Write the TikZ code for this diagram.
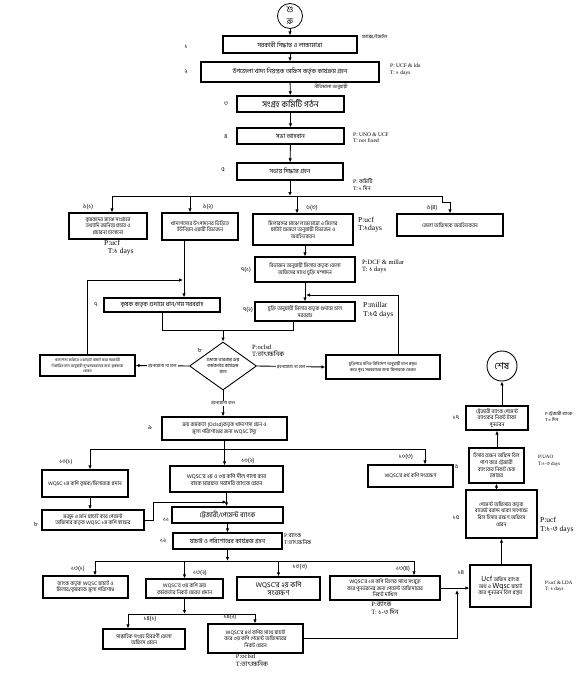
\documentclass[tikz,border=0pt]{standalone}
\usepackage{fontspec}
\setmainfont{Liberation Serif}
\newfontfamily\bnfont[Script=Bengali]{Hind Siliguri}
\newcommand\bn[1]{{\bnfont #1}}
\usetikzlibrary{shapes.geometric, arrows.meta, positioning, calc}

\begin{document}
\begin{tikzpicture}[x=1pt, y=-1pt,
    bx/.style={draw, line width=1.3pt, inner sep=1pt, align=center, font=\bnfont\fontsize{5.2}{6.6}\selectfont},
    bxm/.style={bx, font=\bnfont\fontsize{6.2}{7}\selectfont},
    bxl/.style={bx, font=\bnfont\fontsize{8.5}{9}\selectfont},
    arr/.style={-{Latex[length=4pt,width=3.5pt]}, line width=0.9pt},
    ln/.style={line width=0.9pt},
    num/.style={font=\bnfont\fontsize{6}{7}\selectfont, inner sep=0pt},
    ptlab/.style={font=\fontsize{5.5}{6.5}\selectfont, align=left, inner sep=0pt, anchor=west},
    ptbig/.style={font=\fontsize{7.5}{8.5}\selectfont, align=left, inner sep=0pt, anchor=west},
    cond/.style={midway, fill=white, inner sep=1pt, font=\bnfont\fontsize{4.5}{5}\selectfont}]
    \useasboundingbox (0,0) rectangle (586,673);

    % Start and first steps
    \node[draw, circle, line width=0.8pt, minimum size=25pt, inner sep=0pt, font=\bnfont\fontsize{8.5}{12}\selectfont, align=center] (start) at (290,16) {শু\\রু};
    \node[bxm, minimum width=134pt, minimum height=17pt] (b1) at (290,44.5) {সরকারী সিদ্ধান্ত ও লক্ষ্যমাত্রা};
    \node[bxm, minimum width=178pt, minimum height=20pt] (b2) at (290,72) {উপজেলা খাদ্য নিয়ন্ত্রক অফিস কর্তৃক কার্যক্রম গ্রহন};
    \node[bxl, minimum width=107pt, minimum height=16pt] (b3) at (290.5,104) {সংগ্রহ কমিটি গঠন};
    \node[bxm, minimum width=107pt, minimum height=16pt] (b4) at (290.5,136) {সভা আহবান};
    \node[bxm, minimum width=106pt, minimum height=17pt] (b5) at (290,171.5) {সভায় সিদ্ধান্ত গ্রহন};

    \node[num] (n1) at (186,47) {১};
    \node[num] (n2) at (186,72) {২};
    \node[num] (n3) at (226,104) {৩};
    \node[num] (n4) at (226,137) {৪};
    \node[num] (n5) at (223,170) {৫};
    \node[anchor=west, inner sep=0pt, font=\bnfont\fontsize{4.8}{5}\selectfont] (fax) at (362,37) {ফ্যাক্স/ইমেইল};
    \node[ptlab] (p2) at (390,69.5) {P: UCF \& lda\\T: \bn{১} days};
    \node[inner sep=0pt, font=\bnfont\fontsize{4.8}{5}\selectfont] (niti) at (331,87) {নীতিমালা অনুযায়ী};
    \node[ptlab] (p4) at (353,137.5) {P: UNO \& UCF\\T: not fixed};
    \node[ptlab] (p5) at (353,184.5) {P: \bn{কমিটি}\\T: \bn{১ দিন}};

    \draw[arr] (start) -- (b1);
    \draw[arr] (b1) -- (b2);
    \draw[arr] (b2) -- (b3);
    \draw[arr] (b3) -- (b4);
    \draw[arr] (b4) -- (b5);

    % Step 6 branches
    \node[bx, minimum width=78pt, minimum height=26pt] (b61) at (108,226) {কৃষকদের মাঝে সংগ্রহের\\তথ্যাদি জানিয়ে প্রচার ও\\প্রচারনা চালানো};
    \node[bx, minimum width=76pt, minimum height=27pt] (b62) at (200,226.5) {খাদ্যশস্যের উৎপাদনের ভিত্তিতে\\ইউনিয়ন ওয়ারী বিভাজন};
    \node[bx, minimum width=100pt, minimum height=31pt] (b63) at (303,229.5) {মিলারদের মাঝে লক্ষ্যমাত্রা ও মিলের\\ছাটাই ক্ষমতা অনুযায়ী বিভাজন ও\\অবহিতকরন};
    \node[bx, minimum width=106pt, minimum height=22pt] (b64) at (450,225) {জেলা অফিসকে অবহিতকরন};

    \node[num] (l61) at (88,207) {৬(১)};
    \node[num] (l62) at (208,207) {৬(২)};
    \node[num] (l63) at (312,208) {৬(৩)};
    \node[num] (l64) at (432,208) {৬(৪)};
    \node[ptbig, anchor=north west] (p61) at (104,240) {P:ucf\\\ \ T:\bn{১} days};
    \node[ptbig] (p63) at (358,224.5) {P:ucf\\T:\bn{১}days};

    \coordinate (j6L) at (112,196);
    \coordinate (j6R) at (442,196);
    \draw[arr] (b5) -- (b5.south |- j6L);
    \draw[ln] (j6L) -- (j6R);
    \draw[arr] (j6R) -- ++(0,6) -| (b64.north);
    \draw[arr] (j6L) -- (j6L |- b61.north);
    \draw[arr] ([xshift=-10pt]b62.north |- j6L) -- ([xshift=-10pt]b62.north);
    \draw[arr] ([xshift=-6pt]b63.north |- j6L) -- ([xshift=-6pt]b63.north);

    % Supply to the godown
    \node[bx, minimum width=100pt, minimum height=25pt] (b71) at (305,269.5) {বিভাজন অনুযায়ী মিলার কতৃক জেলা\\অফিসের সাথে চুক্তি সম্পাদন};
    \node[bx, minimum width=100pt, minimum height=19pt] (b72) at (305,311.5) {চুক্তি অনুযায়ী মিলার কতৃক গুদামে চাল\\সরবরাহ};
    \node[bxm, minimum width=116pt, minimum height=14pt] (b7) at (162,305) {কৃষক কতৃক গুদামে ধান/গম সরবরাহ};

    \node[num] (l71) at (246,270) {৭(১)};
    \node[num] (l72) at (248,310) {৭(২)};
    \node[num] (l7) at (96,305) {৭};
    \node[ptlab, font=\fontsize{6.5}{7.5}\selectfont] (p71) at (362,266.5) {P:DCF \& millar\\T: \bn{১} days};
    \node[ptbig] (p72) at (363,310) {P:millar\\T:\bn{১৫} days};

    \draw[arr] (b63.south -| b71) -- (b71.north);
    \draw[arr] (b71) -- (b72);
    \draw[arr] ([xshift=-16pt]b62.south) -- ([xshift=-16pt]b62.south |- b7.north);

    % Checking by the purchase officer
    \node[draw, diamond, line width=0.9pt, minimum width=67pt, minimum height=48pt, inner sep=0pt, aspect=1.4, align=center, font=\bnfont\fontsize{4.6}{6}\selectfont] (dia) at (223,366) {গুদামে ভারপ্রাপ্ত ক্রয়\\কর্মকর্তার কার্যক্রম\\গ্রহন};
    \node[bx, font=\bnfont\fontsize{3.8}{5.5}\selectfont, minimum width=95pt, minimum height=21pt] (lb) at (87.5,365.5) {খাদ্যশস্য শুকিয়ে ও ঝাড়াই-বাছাই করে সরকারী\\নির্ধারিত মান অনুযায়ী পুনঃসরবরাহের জন্য কৃষককে\\ফেরত};
    \node[bx, font=\bnfont\fontsize{4.3}{6}\selectfont, minimum width=114pt, minimum height=24pt] (rb) at (383,367) {চুক্তিপত্রে বর্নিত বিনির্দেশ অনুযায়ী চাল প্রস্তুত\\করে পুনঃ সরবরাহের জন্য মিলারকে ফেরত};

    \node[num] (l8) at (200,351) {৮};
    \node[ptlab, font=\fontsize{6.5}{7.5}\selectfont] (p8) at (252,351) {P:oclsd\\T:\bn{তাৎক্ষনিক}};

    \coordinate (m8) at (223,330);
    \coordinate (fbL) at (183,280);
    \coordinate (fbR) at (306,295);
    \draw[ln] (b7.south) |- (m8);
    \draw[ln] ([xshift=-12pt]b72.south) |- (m8);
    \draw[arr] (m8) -- (dia.north);
    \draw[arr] (dia.west) -- (lb.east) node[cond] {গ্রহনযোগ্য না হলে};
    \draw[arr] (dia.east) -- (rb.west) node[cond] {গ্রহনযোগ্য না হলে};
    \draw[arr] (lb.north) |- (fbL);
    \draw[arr] ([xshift=15pt]rb.north) |- (fbR);

    % WQSC issue and copies
    \node[bx, minimum width=125pt, minimum height=23pt] (b9) at (224.5,428.5) {ক্রয় কর্মকর্তা (Oclsd)কতৃক খাদ্যশস্য গ্রহন ও\\মূল্য পরিশোধের জন্য WQSC ইস্যু};
    \node[num] (l9) at (150,428) {৯};
    \draw[arr] (dia.south) -- (dia.south |- b9.north) node[cond] {গ্রহনযোগ্য হলে};

    \node[bx, minimum width=86pt, minimum height=27pt] (b101) at (85,483.5) {WQSC ১ম কপি কৃষক/মিলারকে প্রদান};
    \node[bx, font=\bnfont\fontsize{5.5}{7}\selectfont, minimum width=113pt, minimum height=26pt] (b102) at (226.5,479) {WQSC'র ২য় ও ৩য় কপি সীল গালা করে\\বাহক মারফত সরাসরি ব্যাংকে প্রেরন};
    \node[bx, minimum width=85pt, minimum height=22pt] (b103) at (410.5,476) {WQSC'র ৪র্থ কপি সংরক্ষণ};
    \node[bx, minimum width=102pt, minimum height=20pt] (b8) at (93,520) {মজুদ ও মান যাচাই করে পেমেন্ট\\অফিসার কতৃক WQSC ১ম কপি স্বাক্ষর};
    \node[bxm, font=\bnfont\fontsize{6.8}{7}\selectfont, minimum width=111pt, minimum height=16pt] (b11) at (227.5,515) {ট্রেজারী/পেমেন্ট ব্যাংক};
    \node[bxm, minimum width=109pt, minimum height=16pt] (b12) at (227.5,541) {যাচাই ও পরিশোধের কার্যক্রম গ্রহন};

    \node[num] (l101) at (66,462) {১০(১)};
    \node[num] (l102) at (248,461) {১০(২)};
    \node[num] (l103) at (406,457) {১০(৩)};
    \node[num] (l8b) at (36,525) {৮};
    \node[num] (l11) at (166,520) {১১};
    \node[num] (l12) at (163,541) {১২};
    \node[ptlab] (p12) at (284,539) {P:\bn{ব্যাংক}\\T:\bn{তাৎক্ষনিক}};

    \coordinate (j10L) at (90,449);
    \coordinate (j10R) at (425,449);
    \coordinate (k11) at (153,502);
    \draw[ln] (j10L) -- (j10R);
    \draw[arr] (b9.south) -- (b9.south |- b102.north);
    \draw[arr] (j10L) -- (j10L |- b101.north);
    \draw[arr] (j10R) -- (j10R |- b103.north);
    \draw[arr] (j10L |- b101.south) -- (j10L |- b8.north);
    \draw[arr] (b102.south) -- (b102.south |- b11.north);
    \draw[arr] (b8.east) -| (k11) -- ([xshift=-1pt]b11.north |- k11);
    \draw[arr] (b11) -- (b11 |- b12.north);

    % Payment by the bank
    \node[bx, minimum width=85pt, minimum height=22pt] (b131) at (85.5,587) {ব্যাংক কতৃক WQSC যাচাই ও\\মিলার/কৃষককে মূল্য পরিশোধ};
    \node[bx, minimum width=77pt, minimum height=19pt] (b132) at (184.5,588.5) {WQSC'র ৩য় কপি ক্রয়\\কর্মকর্তার নিকট ফেরত প্রদান};
    \node[bx, font=\bnfont\fontsize{7}{8}\selectfont, minimum width=83pt, minimum height=23pt] (b133) at (278.5,588.5) {WQSC'র ২য় কপি\\সংরক্ষণ};
    \node[bx, minimum width=110pt, minimum height=24pt] (b134) at (385,588) {WQSC'র ১ম কপি বিলের সাথে সংযুক্ত\\করে পুনর্ভরনের জন্য পেমেন্ট অফিসারের\\নিকট দাখিল};
    \node[bx, minimum width=82pt, minimum height=20pt] (b141) at (144,639) {সাপ্তাহিক সংগ্রহ বিবরণী জেলা\\অফিসে প্রেরন};
    \node[bx, minimum width=95pt, minimum height=29pt] (b142) at (255.5,638.5) {WQSC'র ৪র্থ কপির সাথে যাচাই\\করে ৩য় কপি পেমেন্ট অফিসারের\\নিকট প্রেরন};

    \node[num] (l131) at (78,569) {১৩(১)};
    \node[num] (l132) at (200,573) {১৩(২)};
    \node[num] (l133) at (300,567) {১৩(৩)};
    \node[num] (l134) at (403,569) {১৩(৪)};
    \node[num] (l141) at (150,619) {১৪(১)};
    \node[num] (l142) at (230,617) {১৪(২)};
    \node[ptbig, font=\fontsize{6.5}{8}\selectfont, anchor=north] (p134) at (385,602) {P:\bn{ব্যাংক}\\T: \bn{১-৩ দিন}};
    \node[ptbig, font=\fontsize{6.5}{8}\selectfont, anchor=north] (p142) at (252,654) {P:oclsd\\T:\bn{তাৎক্ষনিক}};

    \coordinate (j13L) at (95,561);
    \coordinate (j13R) at (414,561);
    \coordinate (j14L) at (128,614);
    \coordinate (j14R) at (255,614);
    \draw[arr] (b12.south) -- (b12.south |- j13L);
    \draw[ln] (j13L) -- (j13R);
    \draw[arr] (j13L) -- (j13L |- b131.north);
    \draw[arr] (b132.north |- j13L) -- (b132.north);
    \draw[arr] (b133.north |- j13L) -- (b133.north);
    \draw[arr] (j13R) -- (j13R |- b134.north);
    \draw[arr] (b132.south) -- (b132.south |- j14L);
    \draw[ln] (j14L) -- (j14R);
    \draw[arr] (j14L) -- (j14L |- b141.north);
    \draw[arr] (j14R) -- (j14R |- b142.north);

    % Reimbursement column
    \node[bx, minimum width=61pt, minimum height=42pt] (bucf) at (500.5,586) {{\fontsize{7.5}{8}\selectfont Ucf} অফিস ব্যাংক\\অর্থ ও {\fontsize{7.5}{8}\selectfont Wqsc} যাচাই\\করে পুনর্ভরন বিল প্রস্তুত};
    \node[bx, minimum width=71pt, minimum height=48pt] (b15) at (501.5,514) {পেমেন্ট অফিসার কতৃক\\বাজেট বরাদ্দ থাকা সাপেক্ষে\\বিল হিসাব রক্ষণ অফিসে\\প্রেরন};
    \node[bx, minimum width=55pt, minimum height=35pt] (b16) at (496.5,465.5) {হিসাব রক্ষন অফিস বিল\\পাশ করে ট্রেজারী\\ব্যাংকের নিকট চেক\\হস্তান্তর};
    \node[bx, minimum width=62pt, minimum height=24pt] (b17) at (497,418) {ট্রেজারী ব্যাংক পেমেন্ট\\ব্যাংকের নিকট টাকা\\পুনর্ভরন};
    \node[draw, circle, line width=0.9pt, minimum size=30pt, inner sep=0pt, font=\bnfont\fontsize{9.5}{10}\selectfont] (end) at (502,366) {শেষ};

    \node[num] (l14) at (461,573) {১৪};
    \node[num] (l15) at (456,518) {১৫};
    \node[num] (l16) at (455,467) {১৬};
    \node[num] (l17) at (456,418) {১৭};
    \node[ptlab, font=\fontsize{5}{6}\selectfont] (pucf) at (545,586) {P:ucf \& LDA\\T: \bn{১} days};
    \node[ptbig] (p15) at (540,525) {P:ucf\\T:\bn{১-৩} days};
    \node[ptlab, font=\fontsize{5}{6.5}\selectfont] (p16) at (538,461) {P:UAO\\T:\bn{১-৩} days};
    \node[ptlab, font=\fontsize{4.5}{6}\selectfont] (p17) at (545,416) {P:\bn{ট্রেজারী ব্যাংক}\\T:\bn{১ দিন}};

    \coordinate (j15) at (457,590);
    \draw[arr] (b134.east) -- (b134.east -| bucf.west);
    \draw[arr] (b142.east) -| (j15);
    \draw[arr] (bucf.north -| b15) -- (b15.south);
    \draw[arr] (b15.north -| b16) -- (b16.south);
    \draw[arr] (b16.north -| b17) -- (b17.south);
    \draw[arr] (b17.north -| end) -- (end.south);
\end{tikzpicture}
\end{document}
